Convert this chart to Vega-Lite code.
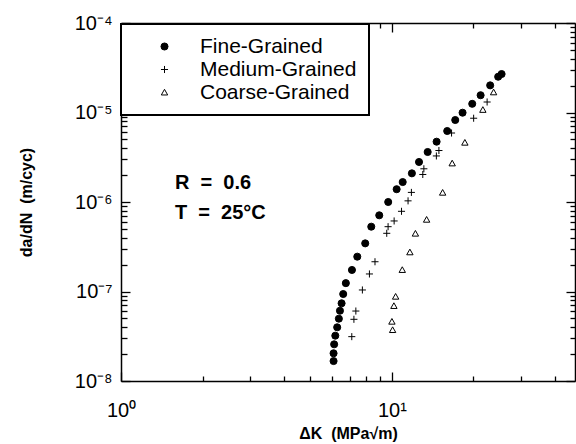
{
  "$schema": "https://vega.github.io/schema/vega-lite/v6.json",
  "width": 454,
  "height": 358,
  "autosize": {"type": "none"},
  "padding": {"left": 121, "top": 23, "right": 1, "bottom": 63},
  "background": "white",
  "config": {
    "view": {"stroke": null},
    "font": "Liberation Sans",
    "axis": {
      "domainColor": "black",
      "domainWidth": 1.5,
      "tickColor": "black",
      "tickWidth": 1.3,
      "labelColor": "black",
      "titleColor": "black",
      "grid": false,
      "labelFlush": false,
      "labelOverlap": false,
      "labelFont": "Liberation Sans",
      "titleFont": "Liberation Sans",
      "zindex": 1
    },
    "legend": {
      "orient": "none",
      "legendX": 0,
      "legendY": 1,
      "strokeColor": "black",
      "strokeWidth": 2,
      "fillColor": "white",
      "padding": 12,
      "labelFontSize": 21,
      "labelFont": "Liberation Sans",
      "labelColor": "black",
      "symbolOffset": 21,
      "labelOffset": 25,
      "rowPadding": 1,
      "symbolSize": 50,
      "symbolStrokeWidth": 1,
      "labelLimit": 400,
      "zindex": 2
    }
  },
  "resolve": {"axis": {"x": "independent", "y": "independent"}},
  "layer": [
    {
      "data": {
        "values": [
          {"series": "Fine-Grained", "dK": 6.09, "dadN": 1.67e-8},
          {"series": "Fine-Grained", "dK": 6.09, "dadN": 2.04e-8},
          {"series": "Fine-Grained", "dK": 6.12, "dadN": 2.57e-8},
          {"series": "Fine-Grained", "dK": 6.18, "dadN": 3.21e-8},
          {"series": "Fine-Grained", "dK": 6.28, "dadN": 3.98e-8},
          {"series": "Fine-Grained", "dK": 6.37, "dadN": 4.97e-8},
          {"series": "Fine-Grained", "dK": 6.43, "dadN": 6.1e-8},
          {"series": "Fine-Grained", "dK": 6.52, "dadN": 7.38e-8},
          {"series": "Fine-Grained", "dK": 6.61, "dadN": 9.37e-8},
          {"series": "Fine-Grained", "dK": 6.76, "dadN": 1.24e-7},
          {"series": "Fine-Grained", "dK": 7.12, "dadN": 1.74e-7},
          {"series": "Fine-Grained", "dK": 7.45, "dadN": 2.45e-7},
          {"series": "Fine-Grained", "dK": 7.97, "dadN": 3.45e-7},
          {"series": "Fine-Grained", "dK": 8.39, "dadN": 5.3e-7},
          {"series": "Fine-Grained", "dK": 8.98, "dadN": 7.1e-7},
          {"series": "Fine-Grained", "dK": 9.69, "dadN": 1.0e-6},
          {"series": "Fine-Grained", "dK": 10.41, "dadN": 1.39e-6},
          {"series": "Fine-Grained", "dK": 10.96, "dadN": 1.67e-6},
          {"series": "Fine-Grained", "dK": 11.85, "dadN": 2.09e-6},
          {"series": "Fine-Grained", "dK": 12.59, "dadN": 2.8e-6},
          {"series": "Fine-Grained", "dK": 13.55, "dadN": 3.62e-6},
          {"series": "Fine-Grained", "dK": 14.62, "dadN": 4.72e-6},
          {"series": "Fine-Grained", "dK": 16.0, "dadN": 6.21e-6},
          {"series": "Fine-Grained", "dK": 17.13, "dadN": 8.24e-6},
          {"series": "Fine-Grained", "dK": 18.23, "dadN": 9.95e-6},
          {"series": "Fine-Grained", "dK": 19.79, "dadN": 1.25e-5},
          {"series": "Fine-Grained", "dK": 21.25, "dadN": 1.56e-5},
          {"series": "Fine-Grained", "dK": 23.05, "dadN": 2.01e-5},
          {"series": "Fine-Grained", "dK": 24.67, "dadN": 2.51e-5},
          {"series": "Fine-Grained", "dK": 25.4, "dadN": 2.69e-5},
          {"series": "Medium-Grained", "dK": 7.11, "dadN": 3.13e-8},
          {"series": "Medium-Grained", "dK": 7.24, "dadN": 4.89e-8},
          {"series": "Medium-Grained", "dK": 7.36, "dadN": 6.05e-8},
          {"series": "Medium-Grained", "dK": 7.78, "dadN": 1.04e-7},
          {"series": "Medium-Grained", "dK": 8.26, "dadN": 1.57e-7},
          {"series": "Medium-Grained", "dK": 8.66, "dadN": 2.15e-7},
          {"series": "Medium-Grained", "dK": 9.57, "dadN": 4.47e-7},
          {"series": "Medium-Grained", "dK": 9.68, "dadN": 5.3e-7},
          {"series": "Medium-Grained", "dK": 10.19, "dadN": 6.14e-7},
          {"series": "Medium-Grained", "dK": 10.85, "dadN": 7.87e-7},
          {"series": "Medium-Grained", "dK": 11.47, "dadN": 1.03e-6},
          {"series": "Medium-Grained", "dK": 11.8, "dadN": 1.28e-6},
          {"series": "Medium-Grained", "dK": 13.0, "dadN": 2.03e-6},
          {"series": "Medium-Grained", "dK": 13.12, "dadN": 2.35e-6},
          {"series": "Medium-Grained", "dK": 14.59, "dadN": 3.27e-6},
          {"series": "Medium-Grained", "dK": 14.91, "dadN": 3.76e-6},
          {"series": "Medium-Grained", "dK": 16.6, "dadN": 5.9e-6},
          {"series": "Medium-Grained", "dK": 20.03, "dadN": 8.63e-6},
          {"series": "Medium-Grained", "dK": 22.46, "dadN": 1.31e-5},
          {"series": "Coarse-Grained", "dK": 10.06, "dadN": 3.71e-8},
          {"series": "Coarse-Grained", "dK": 10.0, "dadN": 4.6e-8},
          {"series": "Coarse-Grained", "dK": 10.17, "dadN": 6.89e-8},
          {"series": "Coarse-Grained", "dK": 10.32, "dadN": 8.75e-8},
          {"series": "Coarse-Grained", "dK": 10.92, "dadN": 1.74e-7},
          {"series": "Coarse-Grained", "dK": 11.65, "dadN": 2.74e-7},
          {"series": "Coarse-Grained", "dK": 12.21, "dadN": 4.43e-7},
          {"series": "Coarse-Grained", "dK": 13.43, "dadN": 6.34e-7},
          {"series": "Coarse-Grained", "dK": 15.39, "dadN": 1.27e-6},
          {"series": "Coarse-Grained", "dK": 16.69, "dadN": 2.7e-6},
          {"series": "Coarse-Grained", "dK": 18.59, "dadN": 4.6e-6},
          {"series": "Coarse-Grained", "dK": 21.66, "dadN": 1.07e-5},
          {"series": "Coarse-Grained", "dK": 23.73, "dadN": 1.68e-5}
        ]
      },
      "mark": {"type": "point", "filled": true, "strokeWidth": 1, "size": 50, "opacity": 1},
      "encoding": {
        "x": {
          "field": "dK", "type": "quantitative",
          "scale": {"type": "log", "domain": [1, 47.4], "nice": false},
          "axis": {
            "orient": "bottom",
            "values": [1, 2, 3, 4, 5, 6, 7, 8, 9, 10, 20, 30, 40],
            "labelExpr": "datum.value == 1 ? '10⁰' : datum.value == 10 ? '10¹' : ''",
            "tickSize": {"condition": {"test": "datum.value == 1 || datum.value == 10", "value": -9}, "value": -5},
            "labelFontSize": 20,
            "labelPadding": 28,
            "title": "ΔK\u00a0\u00a0(MPa√m)",
            "titleFontSize": 16,
            "titleFontWeight": "bold",
            "titlePadding": 1
          }
        },
        "y": {
          "field": "dadN", "type": "quantitative",
          "scale": {"type": "log", "domain": [1e-8, 1e-4], "nice": false},
          "axis": {
            "orient": "left",
            "values": [1e-8, 2e-8, 3e-8, 4e-8, 5e-8, 6e-8, 7e-8, 8e-8, 9e-8, 1e-7, 2e-7, 3e-7, 4e-7, 5e-7, 6e-7, 7e-7, 8e-7, 9e-7, 1e-6, 2e-6, 3e-6, 4e-6, 5e-6, 6e-6, 7e-6, 8e-6, 9e-6, 1e-5, 2e-5, 3e-5, 4e-5, 5e-5, 6e-5, 7e-5, 8e-5, 9e-5, 1e-4],
            "labelExpr": "datum.value == 1e-8 ? '10⁻⁸' : datum.value == 1e-7 ? '10⁻⁷' : datum.value == 1e-6 ? '10⁻⁶' : datum.value == 1e-5 ? '10⁻⁵' : datum.value == 1e-4 ? '10⁻⁴' : ''",
            "tickSize": {"condition": {"test": "indexof([1e-8, 1e-7, 1e-6, 1e-5, 1e-4], datum.value) >= 0", "value": -9}, "value": -6},
            "labelFontSize": 20,
            "labelPadding": 18,
            "labelBaseline": "middle",
            "title": "da/dN\u00a0\u00a0(m/cyc)",
            "titleFontSize": 16,
            "titleFontWeight": "bold",
            "titlePadding": 40
          }
        },
        "shape": {
          "field": "series", "type": "nominal",
          "scale": {"domain": ["Fine-Grained", "Medium-Grained", "Coarse-Grained"], "range": ["circle", "M-1,0H1M0,-1V1", "M0,-0.9L0.9,0.7L-0.9,0.7Z"]},
          "legend": {"title": null}
        },
        "fill": {
          "field": "series", "type": "nominal",
          "scale": {"domain": ["Fine-Grained", "Medium-Grained", "Coarse-Grained"], "range": ["black", "transparent", "transparent"]},
          "legend": {"title": null}
        },
        "stroke": {
          "field": "series", "type": "nominal",
          "scale": {"domain": ["Fine-Grained", "Medium-Grained", "Coarse-Grained"], "range": ["black", "black", "black"]},
          "legend": {"title": null}
        }
      }
    },
    {
      "data": {"values": [{"label": "R\u00a0\u00a0=\u00a0\u00a00.6"}]},
      "mark": {"type": "text", "align": "left", "baseline": "middle", "fontSize": 20, "fontWeight": "bold", "font": "Liberation Sans", "color": "black"},
      "encoding": {
        "text": {"field": "label"},
        "x": {
          "datum": 1.582, "type": "quantitative",
          "scale": {"type": "log", "domain": [1, 47.4], "nice": false},
          "axis": {
            "orient": "top",
            "values": [1, 2, 3, 4, 5, 6, 7, 8, 9, 10, 20, 30, 40],
            "labels": false,
            "title": null,
            "tickSize": {"condition": {"test": "datum.value == 1 || datum.value == 10", "value": -9}, "value": -5}
          }
        },
        "y": {
          "datum": 1.63e-6, "type": "quantitative",
          "scale": {"type": "log", "domain": [1e-8, 1e-4], "nice": false},
          "axis": {
            "orient": "right",
            "values": [1e-8, 2e-8, 3e-8, 4e-8, 5e-8, 6e-8, 7e-8, 8e-8, 9e-8, 1e-7, 2e-7, 3e-7, 4e-7, 5e-7, 6e-7, 7e-7, 8e-7, 9e-7, 1e-6, 2e-6, 3e-6, 4e-6, 5e-6, 6e-6, 7e-6, 8e-6, 9e-6, 1e-5, 2e-5, 3e-5, 4e-5, 5e-5, 6e-5, 7e-5, 8e-5, 9e-5, 1e-4],
            "labels": false,
            "title": null,
            "tickSize": {"condition": {"test": "indexof([1e-8, 1e-7, 1e-6, 1e-5, 1e-4], datum.value) >= 0", "value": -9}, "value": -5}
          }
        }
      }
    },
    {
      "data": {"values": [{"label": "T\u00a0\u00a0=\u00a0\u00a025°C"}]},
      "mark": {"type": "text", "align": "left", "baseline": "middle", "fontSize": 20, "fontWeight": "bold", "font": "Liberation Sans", "color": "black"},
      "encoding": {
        "text": {"field": "label"},
        "x": {"datum": 1.582, "type": "quantitative", "scale": {"type": "log", "domain": [1, 47.4], "nice": false}, "axis": null},
        "y": {"datum": 7.53e-7, "type": "quantitative", "scale": {"type": "log", "domain": [1e-8, 1e-4], "nice": false}, "axis": null}
      }
    }
  ]
}
